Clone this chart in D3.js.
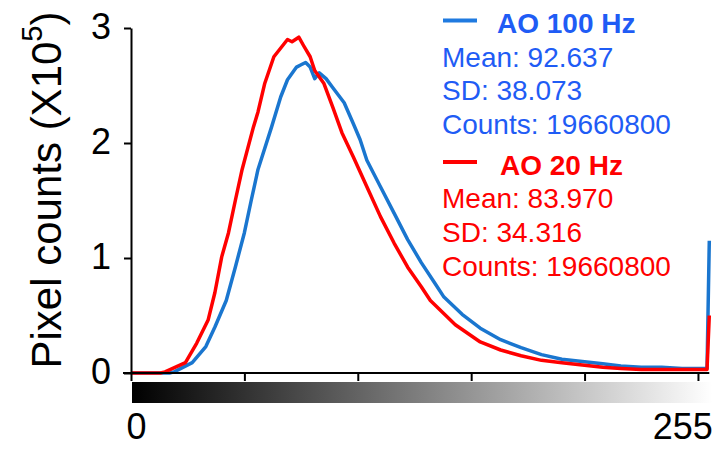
<!DOCTYPE html>
<html>
<head>
<meta charset="utf-8">
<script src="https://cdn.jsdelivr.net/npm/d3@7"></script>
<style>
  html, body { margin: 0; padding: 0; background: #fff; }
  svg { display: block; font-family: "Liberation Sans", Arial, Helvetica, sans-serif; }
</style>
</head>
<body>
<svg id="chart" width="722" height="451"></svg>
<script>
// ---- data (counts in units of 10^5) ----
const blueLevels = [0, 17, 19, 27, 33, 37, 42, 46, 50, 53, 56, 62, 66, 69, 73, 75, 77, 79, 81, 83, 86, 89, 94, 98, 101, 104, 110, 116, 122, 128, 134, 138, 146, 154, 163, 172, 181, 190, 199, 208, 216, 225, 234, 243, 254, 255];
const blueCounts = [0, 0, 0.01, 0.09, 0.23, 0.40, 0.63, 0.92, 1.22, 1.50, 1.77, 2.14, 2.40, 2.55, 2.66, 2.68, 2.70, 2.66, 2.56, 2.61, 2.56, 2.48, 2.35, 2.17, 2.03, 1.85, 1.62, 1.39, 1.16, 0.96, 0.78, 0.66, 0.51, 0.39, 0.29, 0.22, 0.16, 0.12, 0.10, 0.08, 0.06, 0.05, 0.05, 0.04, 0.04, 1.15];

const redLevels = [0, 13, 15, 24, 29, 34, 37, 40, 43, 46, 49, 54, 56, 59, 63, 67, 69, 71, 74, 76, 79, 81, 85, 89, 93, 98, 101, 104, 110, 116, 122, 128, 132, 143, 154, 163, 172, 181, 190, 199, 208, 216, 225, 234, 243, 254, 255];
const redCounts = [0, 0, 0.01, 0.09, 0.26, 0.46, 0.70, 1.01, 1.22, 1.50, 1.77, 2.14, 2.27, 2.52, 2.75, 2.85, 2.90, 2.88, 2.92, 2.85, 2.75, 2.63, 2.52, 2.31, 2.09, 1.88, 1.75, 1.62, 1.36, 1.13, 0.92, 0.75, 0.63, 0.42, 0.27, 0.20, 0.15, 0.11, 0.09, 0.07, 0.05, 0.04, 0.03, 0.03, 0.03, 0.03, 0.50];

const yTickValues = [0, 1, 2, 3];
const xTickValues = [0, 50, 100, 150, 200, 250];
const xEndLabels = ["0", "255"];

const legendBlue = ["AO 100 Hz", "Mean: 92.637", "SD: 38.073", "Counts: 19660800"];
const legendRed = ["AO 20 Hz", "Mean: 83.970", "SD: 34.316", "Counts: 19660800"];

// ---- styling ----
const curveBlue = "#1a76cf";
const textBlue = "#1f5cf5";
const red = "#ff0000";

const svg = d3.select("#chart");

const x = d3.scaleLinear().domain([0, 255]).range([131, 709.3]);
const y = d3.scaleLinear().domain([0, 3]).range([373, 28]);

// gradient bar
const defs = svg.append("defs");
const grad = defs.append("linearGradient").attr("id", "gray").attr("x1", "0%").attr("x2", "100%");
grad.append("stop").attr("offset", "0%").attr("stop-color", "#000");
grad.append("stop").attr("offset", "100%").attr("stop-color", "#fff");
svg.append("rect")
  .attr("x", x(0) + 1).attr("y", 382)
  .attr("width", x(255) - x(0) + 2).attr("height", 21)
  .attr("fill", "url(#gray)");

// end labels under the bar
svg.selectAll("text.xend").data(xEndLabels).enter().append("text")
  .attr("class", "xend")
  .attr("x", (d, i) => i === 0 ? x(+d) + 5.5 : x(+d) + 3.5)
  .attr("y", 439)
  .attr("text-anchor", (d, i) => i === 0 ? "middle" : "end")
  .attr("font-size", 36)
  .attr("fill", "#000")
  .text(d => d);

// curves
const line = d3.line().x(d => x(d[0])).y(d => y(d[1]));
const blueData = blueLevels.map((v, i) => [v, blueCounts[i]]);
const redData = redLevels.map((v, i) => [v, redCounts[i]]);

svg.append("path").datum(blueData)
  .attr("d", line).attr("fill", "none")
  .attr("stroke", curveBlue).attr("stroke-width", 3.5).attr("stroke-linejoin", "round");
svg.append("path").datum(redData)
  .attr("d", line).attr("fill", "none")
  .attr("stroke", red).attr("stroke-width", 3.5).attr("stroke-linejoin", "round");

// axes
const yAxis = svg.append("g").attr("transform", `translate(${x(0)},0)`)
  .call(d3.axisLeft(y).tickValues(yTickValues).tickSize(7).tickSizeOuter(0).tickPadding(13).tickFormat(d3.format("d")));
yAxis.select(".domain").attr("stroke", "#000").attr("stroke-width", 2);
yAxis.selectAll(".tick line").attr("stroke", "#000").attr("stroke-width", 2);
yAxis.selectAll(".tick text").attr("font-size", 36).attr("font-family", null).attr("fill", "#000").attr("dy", "0.28em");

const xAxis = svg.append("g").attr("transform", `translate(0,${y(0)})`)
  .call(d3.axisBottom(x).tickValues(xTickValues).tickSize(8).tickSizeOuter(0).tickFormat(""));
xAxis.select(".domain").attr("stroke", "#000").attr("stroke-width", 2)
  .attr("d", `M${x(0) - 8},0H${x(255)}`);
xAxis.selectAll(".tick line").attr("stroke", "#000").attr("stroke-width", 2);

// y-axis title
const title = svg.append("text")
  .attr("transform", `translate(61,${190}) rotate(-90)`)
  .attr("text-anchor", "middle")
  .attr("font-size", 42)
  .attr("fill", "#000");
title.append("tspan").text("Pixel counts (X10");
title.append("tspan").attr("font-size", 29).attr("dy", -19).text("5");
title.append("tspan").attr("dy", 19).text(")");

// legend
function legendBlock(lines, color, lineColor, top, headerX) {
  svg.append("line")
    .attr("x1", 443).attr("x2", 477).attr("y1", top - 12.5).attr("y2", top - 12.5)
    .attr("stroke", lineColor).attr("stroke-width", 4);
  svg.selectAll(null).data(lines).enter().append("text")
    .attr("x", (d, i) => i === 0 ? headerX : 442)
    .attr("y", (d, i) => top + i * 33.7)
    .attr("font-size", 28)
    .attr("font-weight", (d, i) => i === 0 ? "bold" : "normal")
    .attr("fill", color)
    .text(d => d);
}
legendBlock(legendBlue, textBlue, "#1f7ae0", 33, 497);
legendBlock(legendRed, red, red, 174.5, 500);
</script>
</body>
</html>
